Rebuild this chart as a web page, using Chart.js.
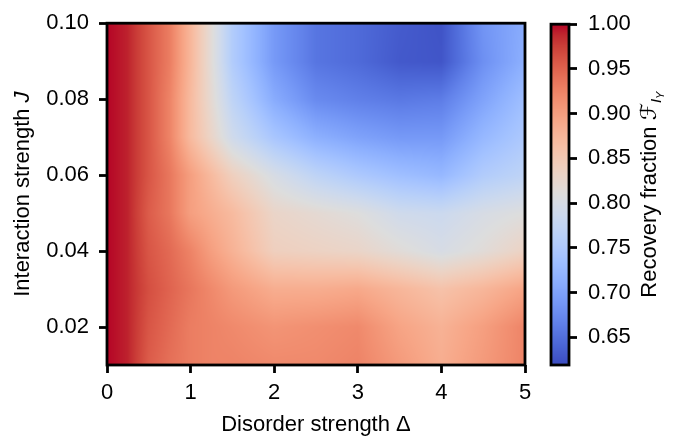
<!DOCTYPE html>
<html>
<head>
<meta charset="utf-8">
<script src="https://cdn.jsdelivr.net/npm/chart.js@4.4.0/dist/chart.umd.min.js"></script>
<style>
  html, body { margin: 0; padding: 0; background: #fff; }
  #wrap { position: relative; width: 679px; height: 438px; }
  #main { position: absolute; left: 0; top: 0; }
  #bar { position: absolute; left: 540px; top: 0; }
</style>
</head>
<body>
<div id="wrap">
  <canvas id="main" width="679" height="438"></canvas>
  <canvas id="bar" width="139" height="438"></canvas>
</div>
<script>
// grid of the scan: disorder strength (x) and interaction strength (y)
const deltaVals = [0, 0.25, 0.5, 0.75, 1, 1.25, 1.5, 2, 2.5, 3, 3.5, 4, 4.5, 5];
const jVals = [0.01, 0.02, 0.03, 0.04, 0.05, 0.06, 0.07, 0.08, 0.09, 0.10];

// recovery fraction, one row per J value
const recJ01 = [1.0, 0.99, 0.955, 0.94, 0.93, 0.925, 0.925, 0.92, 0.92, 0.925, 0.905, 0.885, 0.905, 0.925];
const recJ02 = [1.0, 0.99, 0.96, 0.945, 0.93, 0.925, 0.92, 0.91, 0.915, 0.92, 0.895, 0.88, 0.90, 0.925];
const recJ03 = [1.0, 0.99, 0.965, 0.95, 0.935, 0.92, 0.905, 0.885, 0.885, 0.89, 0.875, 0.86, 0.875, 0.895];
const recJ04 = [1.0, 0.99, 0.96, 0.945, 0.925, 0.90, 0.88, 0.84, 0.835, 0.83, 0.815, 0.80, 0.815, 0.835];
const recJ05 = [1.0, 0.99, 0.955, 0.935, 0.90, 0.885, 0.87, 0.83, 0.82, 0.81, 0.79, 0.785, 0.80, 0.81];
const recJ06 = [1.0, 0.99, 0.96, 0.935, 0.90, 0.87, 0.84, 0.80, 0.77, 0.75, 0.735, 0.725, 0.755, 0.77];
const recJ07 = [1.0, 0.99, 0.96, 0.925, 0.87, 0.83, 0.79, 0.745, 0.715, 0.70, 0.69, 0.69, 0.725, 0.75];
const recJ08 = [1.0, 0.99, 0.96, 0.925, 0.87, 0.82, 0.77, 0.71, 0.675, 0.665, 0.658, 0.662, 0.70, 0.735];
const recJ09 = [1.0, 0.99, 0.96, 0.93, 0.875, 0.815, 0.755, 0.69, 0.655, 0.645, 0.63, 0.627, 0.68, 0.715];
const recJ10 = [1.0, 0.99, 0.96, 0.93, 0.875, 0.815, 0.755, 0.69, 0.655, 0.645, 0.632, 0.625, 0.685, 0.71];
const recovery = [recJ01, recJ02, recJ03, recJ04, recJ05, recJ06, recJ07, recJ08, recJ09, recJ10];

const xTicks = [0, 1, 2, 3, 4, 5];
const yTicks = [0.02, 0.04, 0.06, 0.08, 0.10];
const cbTicks = [0.65, 0.70, 0.75, 0.80, 0.85, 0.90, 0.95, 1.00];
const cbMin = 0.619, cbMax = 1.0;

// coolwarm colour map (Moreland table)
const coolwarmTable = [
  [59,76,192],[68,90,204],[77,104,215],[87,117,225],[98,130,234],[108,142,241],[119,154,247],[130,165,251],
  [141,176,254],[152,185,255],[163,194,255],[174,201,253],[184,208,249],[194,213,244],[204,217,238],[213,219,230],
  [221,221,221],[229,216,209],[236,211,197],[241,204,185],[245,196,173],[247,187,160],[247,177,148],[247,166,135],
  [244,154,123],[241,141,111],[236,127,99],[229,112,88],[222,96,77],[213,80,66],[203,62,56],[192,40,47],[180,4,38]
];
function coolwarm(t) {
  t = Math.max(0, Math.min(1, t));
  const p = t * (coolwarmTable.length - 1);
  const i = Math.min(Math.floor(p), coolwarmTable.length - 2);
  const f = p - i;
  const a = coolwarmTable[i], b = coolwarmTable[i + 1];
  return [a[0] + (b[0] - a[0]) * f, a[1] + (b[1] - a[1]) * f, a[2] + (b[2] - a[2]) * f];
}

function locate(arr, v) {
  if (v <= arr[0]) return [0, 0];
  if (v >= arr[arr.length - 1]) return [arr.length - 2, 1];
  let i = 0;
  while (arr[i + 1] < v) i++;
  return [i, (v - arr[i]) / (arr[i + 1] - arr[i])];
}

const gridPoints = [];
jVals.forEach((jv, r) => deltaVals.forEach((dv, c) => gridPoints.push({x: dv, y: jv, v: recovery[r][c]})));

const FONT = '"Liberation Sans", Arial, Helvetica, sans-serif';
const FS = 22;
Chart.defaults.font.family = FONT;
Chart.defaults.font.size = FS;
Chart.defaults.color = '#000';

// paints the interpolated field inside the plot area, through the chart scales
const heatmapPlugin = {
  id: 'heatmap',
  beforeDatasetsDraw(chart) {
    const {ctx, chartArea: a, scales: {x, y}} = chart;
    const w = Math.round(a.right - a.left), h = Math.round(a.bottom - a.top);
    const off = document.createElement('canvas');
    off.width = w; off.height = h;
    const octx = off.getContext('2d');
    const img = octx.createImageData(w, h);
    const cols = [];
    for (let i = 0; i < w; i++) cols.push(locate(deltaVals, x.getValueForPixel(a.left + i + 0.5)));
    for (let j = 0; j < h; j++) {
      const [r, fy] = locate(jVals, y.getValueForPixel(a.top + j + 0.5));
      const lo = recovery[r], hi = recovery[r + 1];
      for (let i = 0; i < w; i++) {
        const [c, fx] = cols[i];
        const v0 = lo[c] + (lo[c + 1] - lo[c]) * fx;
        const v1 = hi[c] + (hi[c + 1] - hi[c]) * fx;
        const v = v0 + (v1 - v0) * fy;
        const col = coolwarm((v - cbMin) / (cbMax - cbMin));
        const k = (j * w + i) * 4;
        img.data[k] = col[0]; img.data[k + 1] = col[1]; img.data[k + 2] = col[2]; img.data[k + 3] = 255;
      }
    }
    octx.putImageData(img, 0, 0);
    ctx.drawImage(off, a.left, a.top);
  }
};

function drawRotated(ctx, cx, cy, parts) {
  ctx.save();
  ctx.translate(cx, cy);
  ctx.rotate(-Math.PI / 2);
  let total = 0;
  parts.forEach(p => { ctx.font = p.font; p.w = ctx.measureText(p.text).width; total += p.w; });
  let xx = -total / 2;
  ctx.textAlign = 'left';
  ctx.textBaseline = 'alphabetic';
  ctx.fillStyle = '#000';
  parts.forEach(p => { ctx.font = p.font; ctx.fillText(p.text, xx, 8 + (p.dy || 0)); xx += p.w; });
  ctx.restore();
}

const framePlugin = {
  id: 'frame',
  afterDraw(chart) {
    const {ctx, chartArea: a} = chart;
    ctx.save();
    ctx.strokeStyle = '#000';
    ctx.lineWidth = 2.8;
    ctx.strokeRect(a.left, a.top, a.right - a.left, a.bottom - a.top);
    ctx.restore();
    const t = chart.options.plugins.frameTitles;
    if (!t) return;
    if (t.x) {
      ctx.save();
      ctx.font = FS + 'px ' + FONT;
      ctx.fillStyle = '#000';
      ctx.textAlign = 'center';
      ctx.textBaseline = 'alphabetic';
      ctx.fillText(t.x, (a.left + a.right) / 2, 431);
      ctx.restore();
    }
    if (t.y) drawRotated(ctx, t.yPos, (a.top + a.bottom) / 2, t.y);
  }
};

const tickGrid = {drawOnChartArea: false, drawTicks: true, tickLength: 8, tickWidth: 2.8, tickColor: '#000', color: '#000'};

new Chart(document.getElementById('main'), {
  type: 'scatter',
  data: {datasets: [{data: gridPoints, pointRadius: 0, pointHoverRadius: 0}]},
  options: {
    responsive: false, animation: false, devicePixelRatio: 1,
    layout: {padding: {left: 0, top: 20, right: 154, bottom: 0}},
    events: [],
    plugins: {
      legend: {display: false}, tooltip: {enabled: false},
      frameTitles: {
        x: 'Disorder strength \u0394',
        yPos: 21,
        y: [
          {text: 'Interaction strength ', font: FS + 'px ' + FONT},
          {text: 'J', font: 'italic ' + FS + 'px ' + FONT}
        ]
      }
    },
    scales: {
      x: {
        type: 'linear', min: 0, max: 5,
        afterFit: s => { s.height = 73; },
        afterBuildTicks: s => { s.ticks = xTicks.map(v => ({value: v})); },
        ticks: {padding: 7, maxRotation: 0, callback: v => String(v)},
        grid: tickGrid,
        border: {display: false}
      },
      y: {
        type: 'linear', min: 0.01, max: 0.10,
        afterFit: s => { s.width = 107; },
        afterBuildTicks: s => { s.ticks = yTicks.map(v => ({value: v})); },
        ticks: {padding: 10, callback: v => v.toFixed(2)},
        grid: tickGrid,
        border: {display: false}
      }
    }
  },
  plugins: [heatmapPlugin, framePlugin]
});

// colour bar: gradient painted along its own value axis
const colorbarPlugin = {
  id: 'colorbar',
  beforeDatasetsDraw(chart) {
    const {ctx, chartArea: a, scales: {y}} = chart;
    for (let py = Math.floor(a.top); py < Math.ceil(a.bottom); py++) {
      const v = y.getValueForPixel(py + 0.5);
      const c = coolwarm((v - cbMin) / (cbMax - cbMin));
      ctx.fillStyle = `rgb(${c[0] | 0},${c[1] | 0},${c[2] | 0})`;
      ctx.fillRect(a.left, py, a.right - a.left, 1);
    }
  },
  afterDraw(chart) {
    const {ctx, chartArea: a} = chart;
    drawRotated(ctx, 108, (a.top + a.bottom) / 2, [
      {text: 'Recovery fraction ', font: FS + 'px ' + FONT},
      {text: '\u2131', font: FS + 'px "DejaVu Serif", "DejaVu Sans", serif'},
      {text: 'I', font: 'italic 15px ' + FONT, dy: 5},
      {text: 'Y', font: 'italic 11px ' + FONT, dy: 8}
    ]);
  }
};

new Chart(document.getElementById('bar'), {
  type: 'bar',
  data: {labels: ['cb'], datasets: [{data: [], backgroundColor: 'transparent'}]},
  options: {
    responsive: false, animation: false, devicePixelRatio: 1,
    layout: {padding: {left: 11, top: 20, right: 0, bottom: 73}},
    events: [],
    plugins: {legend: {display: false}, tooltip: {enabled: false}},
    scales: {
      x: {display: false},
      y: {
        type: 'linear', position: 'right', min: cbMin, max: cbMax,
        afterFit: s => { s.width = 110; },
        afterBuildTicks: s => { s.ticks = cbTicks.map(v => ({value: v})); },
        ticks: {padding: 11, callback: v => v.toFixed(2)},
        grid: tickGrid,
        border: {display: false}
      }
    }
  },
  plugins: [colorbarPlugin, framePlugin]
});
</script>
</body>
</html>
